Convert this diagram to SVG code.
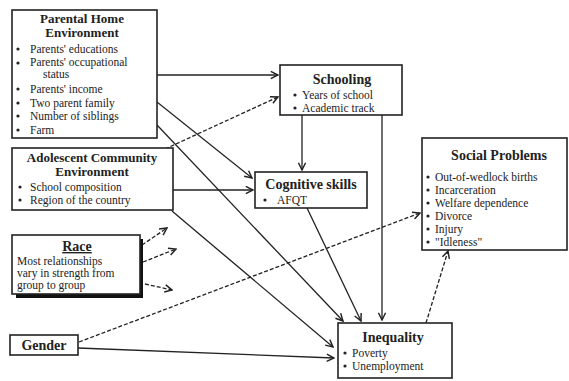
<svg xmlns="http://www.w3.org/2000/svg" width="569" height="381" viewBox="0 0 569 381">
<defs>
<marker id="arr" viewBox="0 0 10 10" refX="9" refY="5" markerWidth="9" markerHeight="9" markerUnits="userSpaceOnUse" orient="auto">
<path d="M1,1 L9,5 L1,9" fill="none" stroke="#222" stroke-width="1.6"/>
</marker>
<style>
.box{fill:#fff;stroke:#222;stroke-width:1.6}
.t{font-family:"Liberation Serif","DejaVu Serif",serif;font-weight:bold;font-size:14px;fill:#222}
.t2{font-size:13px}
.b{font-family:"Liberation Serif","DejaVu Serif",serif;font-size:11.5px;fill:#222}
.c{stroke:#222;stroke-width:1.3;fill:none;marker-end:url(#arr)}
.d{stroke-dasharray:4,2}
</style>
</defs>
<rect width="569" height="381" fill="#fff"/>
<g id="connectors">
<line class="c" x1="157" y1="75" x2="278" y2="75"/>
<line class="c d" x1="165" y1="149" x2="278" y2="97"/>
<line class="c" x1="157" y1="102" x2="252" y2="178"/>
<line class="c" x1="157" y1="125" x2="343" y2="321"/>
<line class="c" x1="173" y1="190" x2="253" y2="190"/>
<line class="c" x1="172" y1="211" x2="333" y2="347"/>
<line class="c" x1="302" y1="115" x2="302" y2="170"/>
<line class="c" x1="382" y1="115" x2="382" y2="320"/>
<line class="c" x1="307" y1="208" x2="361" y2="321"/>
<line class="c" x1="78" y1="348" x2="334" y2="358"/>
<line class="c d" x1="79" y1="342" x2="420" y2="213"/>
<line class="c d" x1="426" y1="323" x2="448" y2="251"/>
<line class="c d" x1="142" y1="245" x2="167" y2="228"/>
<line class="c d" x1="143" y1="262" x2="176" y2="249"/>
<line class="c d" x1="145" y1="284" x2="172" y2="290"/>
</g>
<g id="parental">
<rect class="box" x="12" y="10" width="145" height="128"/>
<text class="t t2" x="82" y="23" text-anchor="middle">Parental Home</text>
<text class="t t2" x="82" y="37" text-anchor="middle">Environment</text>
<g class="b">
<circle cx="18" cy="49" r="1.6"/><text x="30" y="53">Parents' educations</text>
<circle cx="18" cy="63" r="1.6"/><text x="30" y="66">Parents' occupational</text>
<text x="43" y="78">status</text>
<circle cx="18" cy="89" r="1.6"/><text x="30" y="93">Parents' income</text>
<circle cx="18" cy="103" r="1.6"/><text x="30" y="107">Two parent family</text>
<circle cx="18" cy="116" r="1.6"/><text x="30" y="120">Number of siblings</text>
<circle cx="18" cy="130" r="1.6"/><text x="30" y="134">Farm</text>
</g>
</g>
<g id="adolescent">
<rect class="box" x="12" y="148" width="161" height="62"/>
<text class="t t2" x="92" y="162" text-anchor="middle">Adolescent Community</text>
<text class="t t2" x="92" y="176" text-anchor="middle">Environment</text>
<g class="b">
<circle cx="20" cy="187" r="1.6"/><text x="30" y="191">School composition</text>
<circle cx="20" cy="200" r="1.6"/><text x="30" y="204">Region of the country</text>
</g>
</g>
<g id="race">
<rect x="16" y="239" width="127" height="59" fill="#111"/>
<rect class="box" x="12" y="235" width="128" height="59"/>
<text class="t" x="77" y="251" text-anchor="middle" text-decoration="underline">Race</text>
<text class="b" x="17" y="265">Most relationships</text>
<text class="b" x="17" y="277">vary in strength from</text>
<text class="b" x="17" y="289">group to group</text>
</g>
<g id="gender">
<rect class="box" x="10" y="335" width="68" height="20"/>
<text class="t" x="44" y="350" text-anchor="middle" font-size="15">Gender</text>
</g>
<g id="schooling">
<rect class="box" x="280" y="65" width="122" height="50"/>
<text class="t" x="342" y="84" text-anchor="middle">Schooling</text>
<g class="b">
<circle cx="295" cy="95" r="1.6"/><text x="302" y="99">Years of school</text>
<circle cx="295" cy="108" r="1.6"/><text x="302" y="112">Academic track</text>
</g>
</g>
<g id="cognitive">
<rect class="box" x="255" y="172" width="112" height="36"/>
<text class="t" x="311" y="189" text-anchor="middle">Cognitive skills</text>
<g class="b">
<circle cx="265" cy="200" r="1.6"/><text x="277" y="204">AFQT</text>
</g>
</g>
<g id="social">
<rect class="box" x="422" y="138" width="145" height="112"/>
<text class="t" x="499" y="160" text-anchor="middle" font-size="15">Social Problems</text>
<g class="b">
<circle cx="428" cy="177" r="1.6"/><text x="435" y="181">Out-of-wedlock births</text>
<circle cx="428" cy="190" r="1.6"/><text x="435" y="194">Incarceration</text>
<circle cx="428" cy="203" r="1.6"/><text x="435" y="207">Welfare dependence</text>
<circle cx="428" cy="216" r="1.6"/><text x="435" y="220">Divorce</text>
<circle cx="428" cy="229" r="1.6"/><text x="435" y="233">Injury</text>
<circle cx="428" cy="242" r="1.6"/><text x="435" y="246">"Idleness"</text>
</g>
</g>
<g id="inequality">
<rect class="box" x="338" y="323" width="114" height="55"/>
<text class="t" x="393" y="342" text-anchor="middle">Inequality</text>
<g class="b">
<circle cx="345" cy="353" r="1.6"/><text x="352" y="357">Poverty</text>
<circle cx="345" cy="366" r="1.6"/><text x="352" y="370">Unemployment</text>
</g>
</g>
</svg>
